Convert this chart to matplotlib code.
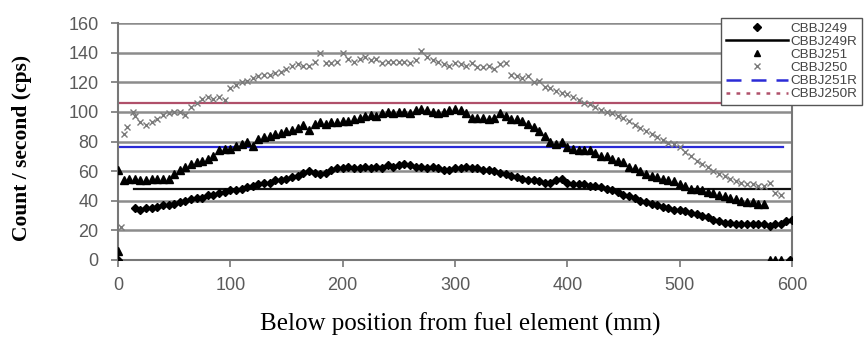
import numpy as np
import matplotlib.pyplot as plt
from matplotlib.lines import Line2D

# positions (mm)
x249 = [0] + list(range(15, 600, 5)) + [598, 600]
y249 = [0,
        35, 34, 35, 35, 36, 37, 37, 38, 39, 40, 41, 42, 42, 44, 44, 45, 46, 47,
        47, 48, 49, 50, 51, 52, 52, 54, 54, 55, 56, 57, 59, 60, 59, 58, 59, 61,
        62, 62, 63, 62, 62, 63, 62, 63, 62, 64, 63, 64, 65, 64, 63, 63, 62, 63,
        62, 61, 61, 62, 62, 63, 62, 62, 61, 61, 60, 59, 58, 57, 56, 55, 54, 54,
        53, 52, 52, 54, 55, 52, 51, 51, 51, 50, 50, 49, 48, 47, 46, 44, 43, 42,
        40, 39, 38, 37, 36, 35, 34, 34, 33, 32, 31, 30, 29, 27, 26, 25, 25, 24,
        24, 24, 24, 24, 24, 23, 24, 24, 26,
        0, 27]

x251 = [0, 0] + list(range(5, 580, 5)) + [580, 585, 590]
y251 = [61, 6,
        54, 55, 55, 54, 54, 55, 55, 55, 55, 58, 61, 63, 65, 66, 67, 68, 70, 74,
        75, 75, 77, 78, 80, 77, 82, 83, 84, 85, 86, 87, 88, 89, 91, 88, 92, 93,
        92, 93, 93, 94, 94, 95, 96, 97, 98, 97, 99, 100, 99, 100, 100, 99, 101,
        102, 101, 100, 99, 100, 101, 102, 101, 99, 96, 96, 96, 95, 96, 99, 97,
        95, 95, 94, 92, 90, 87, 84, 80, 78, 80, 76, 75, 74, 74, 74, 72, 70, 70,
        68, 67, 66, 63, 62, 60, 58, 57, 56, 55, 54, 53, 51, 50, 48, 48, 47, 46,
        45, 44, 43, 42, 41, 40, 39, 39, 38, 38,
        0, 0, 0]

x250 = [3, 5, 8, 13] + list(range(15, 595, 5))
y250 = [22, 85, 90, 100,
        97, 93, 91, 93, 95, 98, 99, 100, 100, 98, 103, 106, 109, 110, 109, 110,
        108, 116, 118, 120, 121, 123, 124, 125, 125, 126, 127, 129, 131, 132,
        131, 131, 134, 140, 133, 133, 134, 140, 136, 134, 136, 137, 135, 136,
        133, 134, 134, 134, 134, 133, 135, 141, 137, 135, 134, 132, 131, 133,
        132, 131, 133, 130, 130, 131, 129, 132, 133, 125, 124, 123, 124, 120,
        121, 117, 116, 114, 113, 112, 110, 108, 106, 105, 103, 101, 100, 99,
        97, 96, 94, 91, 89, 87, 85, 83, 81, 79, 78, 76, 73, 70, 67, 65, 63, 60,
        58, 57, 55, 53, 52, 51, 51, 50, 50, 52, 45, 44]

# reference levels: (level, start, end)
ref249 = [48, 14, 600]
ref251 = [76, 0, 592]
ref250 = [106, 0, 600]

fig = plt.figure(figsize=(8.65, 3.53), dpi=100)
ax = fig.add_axes([0.1364, 0.2635, 0.7792, 0.6713])

grid_c = '#8c8c8c'
for g in range(20, 161, 20):
    ax.axhline(g, color=grid_c, lw=1.8, zorder=0)

ax.plot([ref250[1], ref250[2]], [ref250[0]] * 2, color='#b0506a', lw=1.6, zorder=1)
ax.plot([ref251[1], ref251[2]], [ref251[0]] * 2, color='#2b2bd6', lw=1.6, zorder=1)
ax.plot([ref249[1], ref249[2]], [ref249[0]] * 2, color='#111111', lw=1.6, zorder=1)

ax.plot(x250, y250, ls='none', marker='x', ms=4.5, mew=1.0, color='#7a7a7a', zorder=3)
ax.plot(x251, y251, ls='none', marker='^', ms=5.5, color='black', zorder=4)
ax.plot(x249, y249, ls='none', marker='D', ms=4.3, color='black', zorder=5)

ax.set_xlim(0, 600)
ax.set_ylim(0, 160)
ax.set_xticks(range(0, 601, 100))
ax.set_yticks(range(0, 161, 20))
ax.spines['top'].set_visible(False)
for s in ['left', 'bottom', 'right']:
    ax.spines[s].set_color('#777777')
    ax.spines[s].set_linewidth(1.5)
ax.tick_params(direction='out', length=5, width=1.2, color='#777777',
               labelsize=13, labelcolor='#5a5a5a')
ax.tick_params(axis='y', pad=9)
ax.tick_params(axis='x', pad=7)
for lab in ax.get_xticklabels() + ax.get_yticklabels():
    lab.set_fontfamily('Liberation Sans')

fig.text(0.026, 0.58, 'Count / second (cps)', family='Liberation Serif',
         fontweight='bold', fontsize=15.5, rotation=90, ha='center', va='center')
fig.text(0.532, 0.08, 'Below position from fuel element (mm)', family='Liberation Serif',
         fontsize=18, ha='center', va='center')

handles = [
    Line2D([], [], ls='none', marker='D', ms=4, color='black'),
    Line2D([], [], color='black', lw=1.8),
    Line2D([], [], ls='none', marker='^', ms=5, color='black'),
    Line2D([], [], ls='none', marker='x', ms=4, color='#7a7a7a'),
    Line2D([], [], color='#2b2bd6', lw=1.8, dashes=(6, 4)),
    Line2D([], [], color='#b0506a', lw=1.8, dashes=(1.5, 2.5)),
]
labels = ['CBBJ249', 'CBBJ249R', 'CBBJ251', 'CBBJ250', 'CBBJ251R', 'CBBJ250R']
leg = fig.legend(handles, labels, loc='upper left', bbox_to_anchor=(0.826, 0.969),
                 fancybox=False, framealpha=1, edgecolor='#555555', handlelength=4.6,
                 handletextpad=0.15, labelspacing=0.05, borderpad=0.35,
                 prop={'family': 'Liberation Sans', 'size': 9.7})
leg.get_frame().set_linewidth(1.0)
for t in leg.get_texts():
    t.set_color('#444444')

fig.savefig('out.png', dpi=100)
